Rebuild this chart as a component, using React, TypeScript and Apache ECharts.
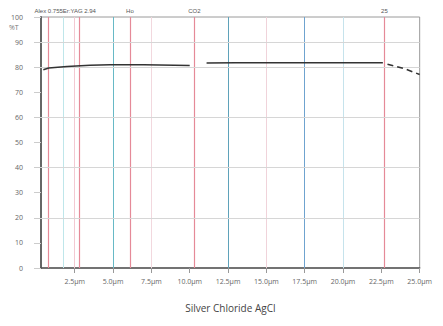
import React, { useEffect, useRef } from "react";
import * as echarts from "echarts";

// Wavelength (µm) vs transmission (%) for AgCl
const segmentA: [number, number][] = [
  [0.45, 79.0], [0.8, 79.7], [2.0, 80.3], [3.5, 80.8], [4.8, 81.0], [7.0, 81.0], [10.0, 80.7],
];
const segmentB: [number, number][] = [
  [11.1, 81.7], [13.0, 81.8], [15.0, 81.8], [18.0, 81.8], [20.0, 81.8], [22.6, 81.8],
];
const segmentC: [number, number][] = [
  [22.9, 81.2], [24.0, 79.4], [25.0, 77.1],
];
const xTicks = [2.5, 5, 7.5, 10, 12.5, 15, 17.5, 20, 22.5, 25];
const laserLines = [0.8, 2.8, 6.1, 10.3, 22.7];
const laserNames = ["Alex 0.755", "Er:YAG 2.94", "Ho", "CO2", "25"];
const bandLines = [1.74, 2.5, 5.0, 7.5, 12.5, 15.0, 17.5, 20.0];
const bandColors = ["#bfe6ea", "#f3c9d2", "#67b9c6", "#f2d8de", "#5fa2ba", "#f0d3da", "#6fa3cf", "#c6e3ec"];
const hLines = [20, 40, 60, 80, 90];

export default function App() {
  const ref = useRef<HTMLDivElement>(null);
  useEffect(() => {
    if (!ref.current) return;
    const chart = echarts.init(ref.current, undefined, { renderer: "svg" });
    const vMarks: any[] = [];
    bandLines.forEach((x, i) => {
      vMarks.push({ xAxis: x, lineStyle: { color: bandColors[i], width: 1, type: "solid" }, label: { show: false } });
    });
    laserLines.forEach((x, i) => {
      vMarks.push({
        xAxis: x,
        lineStyle: { color: "#e58a98", width: 1.2, type: "solid" },
        label: { show: true, position: "end", formatter: laserNames[i], fontSize: 6, color: "#555", distance: 3 },
      });
    });
    hLines.forEach((y) => {
      vMarks.push({ yAxis: y, lineStyle: { color: "#d6d6d6", width: 1, type: "solid" }, label: { show: false } });
    });
    chart.setOption({
      animation: false,
      grid: { left: 29, right: 3, top: 9, bottom: 48, show: true, borderColor: "#9a9a9a", borderWidth: 1, containLabel: false },
      xAxis: {
        type: "value",
        min: 0.3,
        max: 25,
        axisLine: { show: true, lineStyle: { color: "#555", width: 1.5 } },
        axisTick: { show: true, customValues: xTicks, length: 5, lineStyle: { color: "#999" } },
        axisLabel: {
          customValues: xTicks,
          formatter: (v: number) => v.toFixed(1) + "µm",
          fontSize: 7,
          color: "#666",
          margin: 10,
          fontFamily: "Open Sans",
        },
        splitLine: { show: false },
        name: "Silver Chloride AgCl",
        nameLocation: "middle",
        nameGap: 35,
        nameTextStyle: { fontSize: 10, color: "#444", fontFamily: "Open Sans" },
      },
      yAxis: {
        type: "value",
        min: 0,
        max: 100,
        interval: 10,
        axisLine: { show: true, lineStyle: { color: "#666", width: 2 } },
        axisTick: { show: true, length: 7, lineStyle: { color: "#ccc" } },
        axisLabel: { fontSize: 7, color: "#666", margin: 18, fontFamily: "Open Sans" },
        splitLine: { show: false },
      },
      graphic: [
        { type: "text", left: 1, top: 16, style: { text: "%T", fontSize: 7, fill: "#777", fontFamily: "Open Sans" } },
      ],
      series: [
        {
          type: "line",
          data: segmentA,
          symbol: "none",
          lineStyle: { color: "#333", width: 1.6 },
          z: 5,
          markLine: { silent: true, symbol: "none", data: vMarks, z: 1 },
        },
        { type: "line", data: segmentB, symbol: "none", lineStyle: { color: "#333", width: 1.6 }, z: 5 },
        { type: "line", data: segmentC, symbol: "none", lineStyle: { color: "#333", width: 1.6, type: [6, 4] }, z: 5 },
      ],
    });
    return () => chart.dispose();
  }, []);
  return <div ref={ref} style={{ width: 427, height: 310 }} />;
}
